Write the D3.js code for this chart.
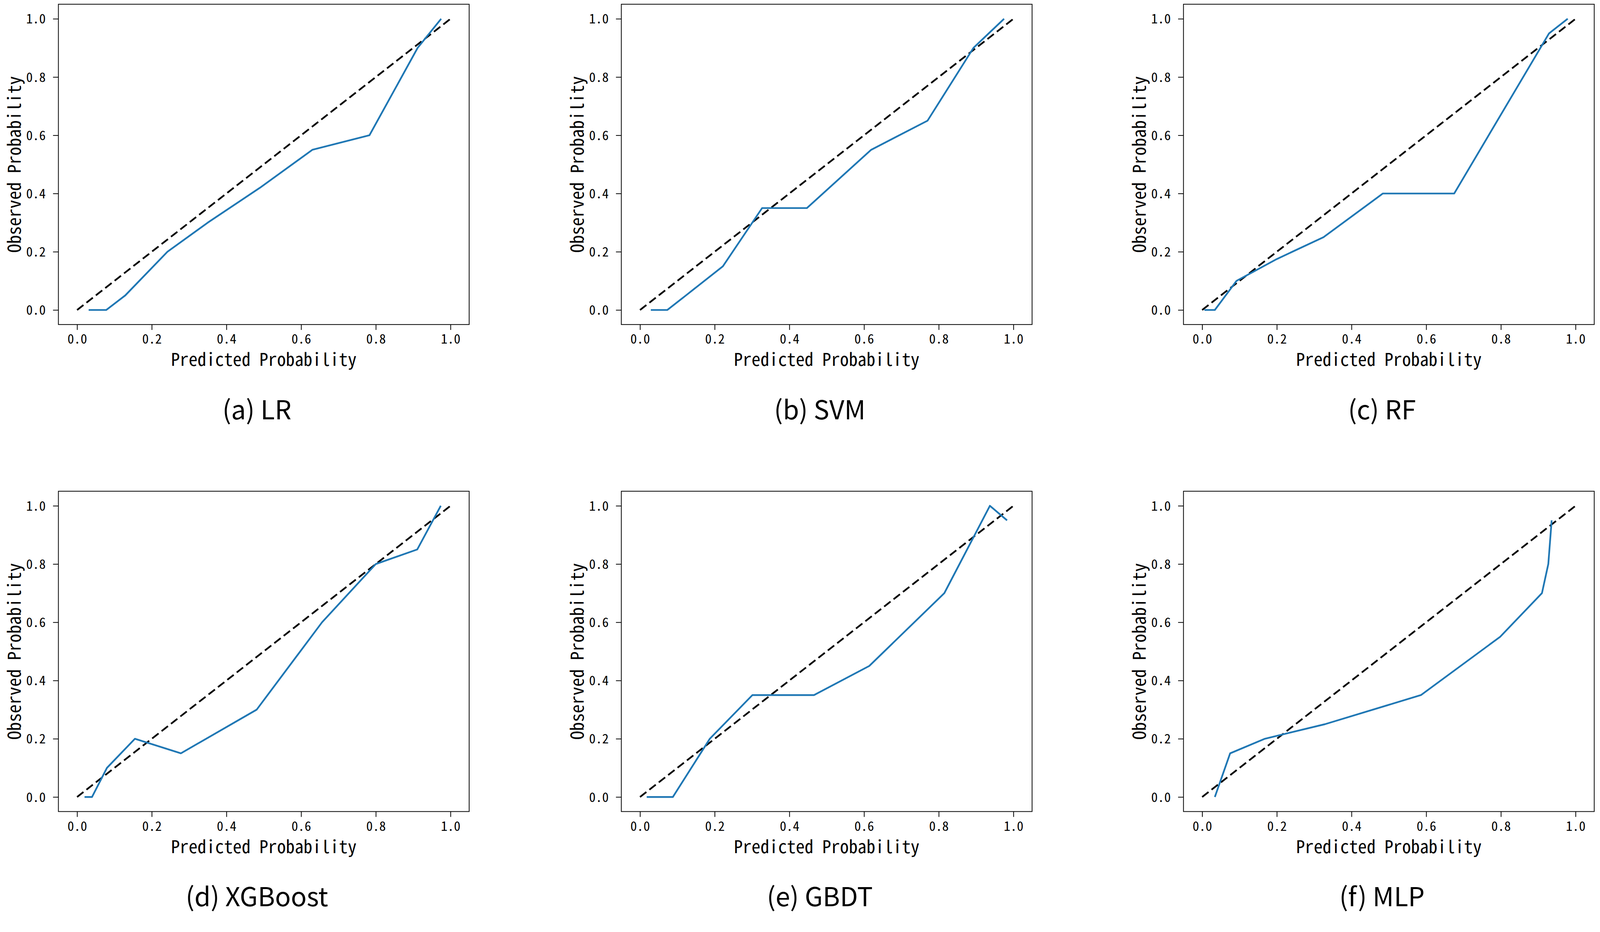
<!DOCTYPE html>
<html>
<head>
<meta charset="utf-8">
<script src="https://cdn.jsdelivr.net/npm/d3@7"></script>
<style>
  html, body { margin: 0; padding: 0; width: 100%; height: 100%; overflow: hidden; background: #fff; }
  svg { display: block; }
  .mono { font-family: "Noto Sans CJK SC", "DejaVu Sans Mono", monospace; font-feature-settings: "hwid" 1; }
</style>
</head>
<body>
<svg id="chart" viewBox="0 0 4164 2387" preserveAspectRatio="xMinYMin meet" width="100%" height="100%"></svg>
<script>
// Calibration curves, one panel per model.
const models = ["(a) LR", "(b) SVM", "(c) RF", "(d) XGBoost", "(e) GBDT", "(f) MLP"];

const predLR  = [0.031, 0.078, 0.129, 0.242, 0.35, 0.49, 0.63, 0.783, 0.912, 0.975];
const obsLR   = [0, 0, 0.05, 0.2, 0.30, 0.42, 0.55, 0.60, 0.90, 1.0];
const predSVM = [0.029, 0.073, 0.123, 0.222, 0.327, 0.447, 0.619, 0.77, 0.893, 0.975];
const obsSVM  = [0, 0, 0.05, 0.15, 0.35, 0.35, 0.55, 0.65, 0.90, 1.0];
const predRF  = [0.006, 0.034, 0.092, 0.2, 0.325, 0.484, 0.675, 0.929, 0.979];
const obsRF   = [0, 0, 0.10, 0.175, 0.25, 0.40, 0.40, 0.95, 1.0];
const predXGB = [0.02, 0.04, 0.08, 0.155, 0.278, 0.481, 0.656, 0.80, 0.911, 0.974];
const obsXGB  = [0, 0, 0.10, 0.20, 0.15, 0.30, 0.60, 0.80, 0.85, 1.0];
const predGBDT = [0.018, 0.088, 0.187, 0.301, 0.466, 0.614, 0.815, 0.937, 0.983];
const obsGBDT  = [0, 0, 0.20, 0.35, 0.35, 0.45, 0.70, 1.0, 0.95];
const predMLP = [0.034, 0.075, 0.168, 0.329, 0.586, 0.798, 0.91, 0.927, 0.936];
const obsMLP  = [0, 0.15, 0.20, 0.25, 0.35, 0.55, 0.70, 0.80, 0.95];

const series = [[predLR, obsLR], [predSVM, obsSVM], [predRF, obsRF],
                [predXGB, obsXGB], [predGBDT, obsGBDT], [predMLP, obsMLP]];

const ticks = [0, 0.2, 0.4, 0.6, 0.8, 1.0];
const diag = [0, 1];

// layout
const colLeft = [152, 1617, 3080];
const rowTop = [11, 1279];
const pw = 1069, ph = 834;
const tickFs = 34, labelFs = 46;

const svg = d3.select("#chart");

const x = d3.scaleLinear().domain([-0.05, 1.05]).range([0, pw]);
const y = d3.scaleLinear().domain([-0.05, 1.05]).range([ph, 0]);

const line = d3.line()
  .x(d => x(d[0]))
  .y(d => y(d[1]));

function monoText(sel, str, fs){
  // half-width glyphs like the original SimHei, forced to 0.5em per char
  sel.attr("class", "mono")
    .attr("font-size", fs)
    .attr("textLength", str.length * fs * 0.5)
    .attr("lengthAdjust", "spacingAndGlyphs")
    .text(str);
}

series.forEach(function(s, i){
  let g = svg.append("g")
    .attr("transform", `translate(${colLeft[i % 3]},${rowTop[Math.floor(i / 3)]})`);

  // x axis
  let gx = g.append("g").attr("transform", `translate(0,${ph})`)
    .call(d3.axisBottom(x).tickValues(ticks).tickSize(14).tickFormat(""));
  gx.select(".domain").remove();
  gx.selectAll(".tick line").attr("stroke", "#000").attr("stroke-width", 2);
  gx.selectAll(".tick").each(function(t){
    let str = d3.format(".1f")(t);
    d3.select(this).append("text")
      .attr("x", 0).attr("y", 50)
      .attr("text-anchor", "middle")
      .attr("fill", "#000")
      .call(monoText, str, tickFs);
  });

  // y axis
  let gy = g.append("g")
    .call(d3.axisLeft(y).tickValues(ticks).tickSize(14).tickFormat(""));
  gy.select(".domain").remove();
  gy.selectAll(".tick line").attr("stroke", "#000").attr("stroke-width", 2);
  gy.selectAll(".tick").each(function(t){
    let str = d3.format(".1f")(t);
    d3.select(this).append("text")
      .attr("x", -33).attr("y", 12)
      .attr("text-anchor", "end")
      .attr("fill", "#000")
      .call(monoText, str, tickFs);
  });

  // perfect calibration
  g.append("path")
    .datum(diag.map(d => [d, d]))
    .attr("d", line)
    .attr("fill", "none")
    .attr("stroke", "#000")
    .attr("stroke-width", 4.5)
    .attr("stroke-dasharray", "21,10");

  // model curve
  g.append("path")
    .datum(s[0].map((p, k) => [p, s[1][k]]))
    .attr("d", line)
    .attr("fill", "none")
    .attr("stroke", "#1f77b4")
    .attr("stroke-width", 4.5)
    .attr("stroke-linejoin", "round");

  // frame
  g.append("rect")
    .attr("width", pw).attr("height", ph)
    .attr("fill", "none")
    .attr("stroke", "#000")
    .attr("stroke-width", 2);

  // axis labels
  g.append("text")
    .attr("x", pw / 2).attr("y", ph + 108)
    .attr("text-anchor", "middle")
    .attr("fill", "#000")
    .call(monoText, "Predicted Probability", labelFs);

  g.append("text")
    .attr("transform", `translate(-98,${ph / 2}) rotate(-90)`)
    .attr("text-anchor", "middle")
    .attr("fill", "#000")
    .call(monoText, "Observed Probability", labelFs);

  // subplot caption
  g.append("text")
    .attr("x", pw / 2 - 18).attr("y", 1081)
    .attr("text-anchor", "middle")
    .attr("font-family", "'Noto Sans CJK SC', 'Noto Sans', sans-serif")
    .attr("font-size", 68)
    .attr("fill", "#000")
    .text(models[i]);
});
</script>
</body>
</html>
